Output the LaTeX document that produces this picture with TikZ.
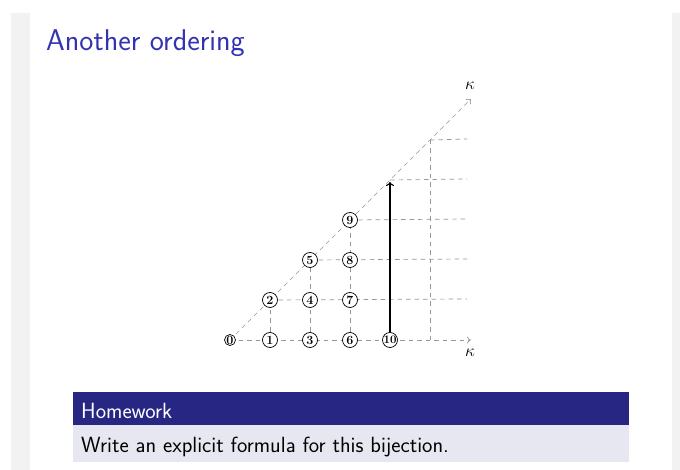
\documentclass[tikz,border=0pt]{standalone}
\usetikzlibrary{arrows.meta}
\definecolor{titleblue}{RGB}{51,51,178}
\definecolor{blockhead}{RGB}{39,39,131}
\definecolor{blockbody}{RGB}{231,231,241}
\definecolor{sidegray}{RGB}{242,242,242}
\definecolor{gridgray}{RGB}{150,150,150}
\tikzset{
  gridline/.style={draw=gridgray, line width=0.7pt, dash pattern=on 4.5pt off 4pt},
  axisline/.style={gridline, -{To[length=4pt,width=7pt]}},
  pt/.style={circle, draw, fill=white, inner sep=0pt, minimum size=15pt, line width=0.7pt,
    font=\fontsize{12.5}{12.5}\selectfont\bfseries},
  klabel/.style={font=\fontsize{18}{18}\selectfont},
}
\begin{document}
\begin{tikzpicture}[x=1pt,y=-1pt]
\useasboundingbox (0,0) rectangle (680,470);
\fill[white] (0,0) rectangle (680,470);
\fill[sidegray] (11,13) rectangle (30,470);
\fill[sidegray] (672,13) rectangle (680,470);
% title
\node[anchor=base west, text=titleblue, inner sep=0pt, font=\sffamily\fontsize{30}{35}\selectfont] (title) at (46,51) {Another ordering};
% grid coordinates
\foreach \i in {0,...,6}{
  \foreach \j in {0,...,6}{
    \coordinate (g\i\j) at (230+40*\i, 340-40*\j);
  }
}
\coordinate (e1) at (467,299);
\coordinate (e2) at (467,259);
\coordinate (e3) at (467,219);
\coordinate (e4) at (467,179);
\coordinate (e5) at (467,139);
\coordinate (xend) at (471,340);
\coordinate (dend) at (471,99);
% dashed lines
\draw[axisline] (g00) -- (xend);
\draw[axisline] (g00) -- (dend);
\foreach \j in {1,...,5}{
  \draw[gridline] (g\j\j) -- (e\j);
}
\draw[gridline] (g10) -- (g11);
\draw[gridline] (g20) -- (g22);
\draw[gridline] (g30) -- (g33);
\draw[gridline] (g50) -- (g55);
\node[klabel] (kx) at (470,353) {$\kappa$};
\node[klabel] (kd) at (470,86) {$\kappa$};
% nodes
\node[pt, minimum size=11pt] (n0) at (g00) {0};
\node[pt] (n1) at (g10) {1};
\node[pt] (n2) at (g11) {2};
\node[pt] (n3) at (g20) {3};
\node[pt] (n4) at (g21) {4};
\node[pt] (n5) at (g22) {5};
\node[pt] (n6) at (g30) {6};
\node[pt] (n7) at (g31) {7};
\node[pt] (n8) at (g32) {8};
\node[pt] (n9) at (g33) {9};
\node[pt] (n10) at (g40) {\makebox[9pt]{\fontsize{11.5}{11.5}\selectfont\bfseries 10}};
\coordinate (atop) at (390,182);
\draw[line width=1.1pt, -{To[length=4pt,width=8pt]}] (n10) -- (atop);
% block
\fill[blockhead] (73,392) rectangle (629,425);
\fill[blockbody] (73,425) rectangle (629,462);
\node[anchor=base west, text=white, inner sep=0pt, font=\sffamily\fontsize{22}{26}\selectfont] (hw) at (81,418) {Homework};
\node[anchor=base west, text=black, inner sep=0pt, font=\sffamily\fontsize{22}{26}\selectfont] (body) at (81,452) {Write an explicit formula for this bijection.};
\end{tikzpicture}
\end{document}
